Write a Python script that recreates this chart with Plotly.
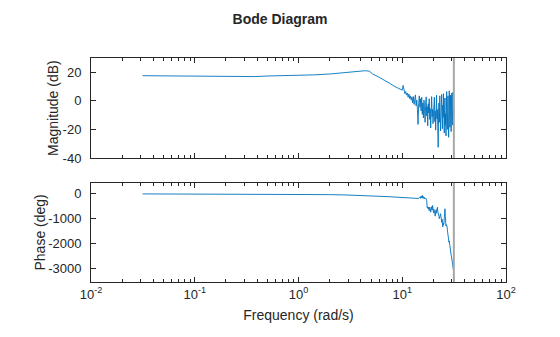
import plotly.graph_objects as go
from plotly.subplots import make_subplots

# ---- data ----
# smooth low-frequency part
freq_low = [0.0314, 0.05, 0.08, 0.12, 0.2, 0.3, 0.38, 0.5, 0.7, 1.0, 1.4, 2.0,
            2.8, 3.5, 4.4, 4.8, 5.2, 6.0, 7.0, 7.6, 8.5, 9.3, 9.8]
mag_low = [17.6, 17.5, 17.3, 17.0, 17.1, 17.3, 17.0, 17.4, 17.5, 17.6, 18.2, 18.8,
           20.0, 20.6, 21.1, 20.8, 18.8, 16.5, 14.0, 12.2, 10.0, 8.5, 7.5]
phase_low = [-0.5, -1, -1.5, -2, -3, -5, -6, -8, -11, -15, -21, -30,
             -42, -53, -66, -72, -78, -90, -105, -114, -128, -140, -147]

# noisy high-frequency part
freq_high = [10.0, 10.2, 10.4, 10.6, 10.8, 11.0, 11.2, 11.4, 11.6, 11.8,
             12.0, 12.2, 12.4, 12.6, 12.8, 13.0, 13.2, 13.4, 13.6, 13.8,
             14.0, 14.2, 14.4, 14.6, 14.8, 15.0, 15.2, 15.4, 15.6, 15.8,
             16.0, 16.2, 16.4, 16.6, 16.8, 17.0, 17.2, 17.4, 17.6, 17.8,
             18.0, 18.2, 18.4, 18.6, 18.8, 19.0, 19.2, 19.4, 19.6, 19.8,
             20.0, 20.2, 20.4, 20.6, 20.8, 21.0, 21.2, 21.4, 21.6, 21.8,
             22.0, 22.2, 22.4, 22.6, 22.8, 23.0, 23.2, 23.4, 23.6, 23.8,
             24.0, 24.2, 24.4, 24.6, 24.8, 25.0, 25.2, 25.4, 25.6, 25.8,
             26.0, 26.2, 26.4, 26.6, 26.8, 27.0, 27.2, 27.4, 27.6, 27.8,
             28.0, 28.2, 28.4, 28.6, 28.8, 29.0, 29.2, 29.4, 29.6, 29.8,
             30.0, 30.2, 30.4, 30.6, 30.8, 31.0, 31.2, 31.4]
mag_high = [7.5, 10.8, 6.0, 5.0, 6.5, 4.0, 5.5, 2.5, 4.8, 1.5,
            3.5, 0.5, 2.8, -1.5, 3.0, -2.5, 1.0, 4.2, -3.5, 0.5,
            -6.0, -16.5, -2.0, 3.5, -4.5, 1.5, -7.0, 2.5, -9.5, -1.5,
            -12.0, 0.5, -6.5, -15.0, -3.0, 2.8, -10.5, -4.0, -17.5, -2.0,
            -8.5, 1.5, -13.0, -5.5, -19.0, -3.5, 3.0, -11.0, -6.0, -16.0,
            -2.5, -9.0, 2.5, -14.5, -7.0, -20.5, -4.0, 4.0, -12.5, -6.0,
            -18.0, -32.5, -8.5, -1.5, -15.0, 3.5, -10.0, -21.0, -5.0, -13.5,
            4.5, -8.0, -19.5, -3.0, -11.5, 5.0, -14.0, -22.5, -6.0, 2.0,
            -17.0, -9.0, -24.5, -4.5, 6.5, -12.0, -20.0, -7.5, 3.5, -16.0,
            -25.5, -10.0, 7.0, -5.5, -18.5, -8.0, 4.0, -14.0, -21.5, -3.5,
            5.5, -11.0, -17.0, -6.0, 6.0, -13.0, -4.0, -9.0]
phase_high = [-150, -152, -155, -154, -158, -160, -158, -163, -165, -162,
              -168, -170, -166, -172, -175, -170, -178, -176, -180, -172,
              -183, -178, -185, -150, -120, -180, -90, -160, -60, -175,
              -110, -190, -140, -195, -170, -205, -260, -560, -520, -610,
              -540, -680, -530, -600, -740, -560, -520, -650, -470, -600,
              -760, -620, -820, -735, -900, -700, -640, -780, -560, -540,
              -700, -860, -760, -920, -1000, -880, -960, -800, -900, -1080,
              -1150, -1020, -1250, -1335, -1180, -1250, -1200, -1000, -760, -600,
              -900, -1150, -1300, -1240, -1280, -1300, -1450, -1580, -1700, -1870,
              -1800, -1950, -1900, -2050, -2150, -2250, -2350, -2450, -2480, -2520,
              -2600, -2650, -2700, -2780, -2870, -2900, -3100, -3540]

nyquist = 31.42  # rad/s, gray vertical marker

mag_ticks = [-40, -20, 0, 20]
mag_tick_text = ["-40", "-20", "0", "20"]
phase_ticks = [-3000, -2000, -1000, 0]
phase_tick_text = ["-3000", "-2000", "-1000", "0"]
freq_ticks = [0.01, 0.1, 1, 10, 100]
freq_tick_text = ["10<sup>-2</sup>", "10<sup>-1</sup>", "10<sup>0</sup>",
                  "10<sup>1</sup>", "10<sup>2</sup>"]

freq = freq_low + freq_high
mag = mag_low + mag_high
phase = phase_low + phase_high

# ---- figure ----
blue = "#0072BD"
axis_col = "#262626"
font = "Liberation Sans, Arial, Helvetica, sans-serif"

fig = make_subplots(rows=2, cols=1, shared_xaxes=False, vertical_spacing=0.11)
fig.add_trace(go.Scatter(x=freq, y=mag, mode="lines",
                         line=dict(color=blue, width=0.9)), row=1, col=1)
fig.add_trace(go.Scatter(x=freq, y=phase, mode="lines",
                         line=dict(color=blue, width=0.9)), row=2, col=1)
fig.add_trace(go.Scatter(x=[nyquist, nyquist], y=[-40, 30], mode="lines",
                         line=dict(color="#a6a6a6", width=2)), row=1, col=1)
fig.add_trace(go.Scatter(x=[nyquist, nyquist], y=[-3560, 440], mode="lines",
                         line=dict(color="#a6a6a6", width=2)), row=2, col=1)

minor = [m * 10 ** k for k in range(-2, 2) for m in range(2, 10)]

xcommon = dict(type="log", range=[-2, 2], showline=True, linecolor=axis_col,
               linewidth=1, mirror="allticks", ticks="inside", ticklen=5,
               tickcolor=axis_col, tickvals=freq_ticks, showgrid=False, zeroline=False,
               minor=dict(ticks="inside", ticklen=3, tickcolor=axis_col,
                          tickvals=minor, showgrid=False),
               tickfont=dict(family=font, size=13, color=axis_col))
ycommon = dict(showline=True, linecolor=axis_col, linewidth=1, mirror="allticks",
               ticks="inside", ticklen=5, tickcolor=axis_col, showgrid=False,
               zeroline=False, ticklabelstandoff=6,
               tickfont=dict(family=font, size=13, color=axis_col))

fig.update_layout(
    width=560, height=337,
    margin=dict(l=91, r=54, t=58, b=55),
    paper_bgcolor="white", plot_bgcolor="white",
    showlegend=False,
    title=dict(text="<b>Bode Diagram</b>", x=0.5, xanchor="center",
               y=1 - 19 / 337, yanchor="middle",
               font=dict(family=font, size=14, color=axis_col)),
    xaxis=dict(**xcommon, showticklabels=False, domain=[0, 1]),
    xaxis2=dict(**xcommon, ticktext=freq_tick_text, showticklabels=True,
                title=dict(text="Frequency (rad/s)", standoff=9,
                           font=dict(family=font, size=14, color=axis_col))),
    yaxis=dict(**ycommon, range=[-40, 30], tickvals=mag_ticks,
               ticktext=mag_tick_text, domain=[1 - 100 / 224, 1]),
    yaxis2=dict(**ycommon, range=[-3560, 440], tickvals=phase_ticks,
                ticktext=phase_tick_text, domain=[0, 99 / 224]),
)

# y-axis titles placed as rotated annotations (paper coords of the plot area)
fig.add_annotation(text="Magnitude (dB)", textangle=-90, showarrow=False,
                   xref="paper", yref="paper", x=(53 - 91) / 415, y=(282 - 108) / 224,
                   xanchor="center", yanchor="middle",
                   font=dict(family=font, size=14, color=axis_col))
fig.add_annotation(text="Phase (deg)", textangle=-90, showarrow=False,
                   xref="paper", yref="paper", x=(39 - 91) / 415, y=(282 - 232.5) / 224,
                   xanchor="center", yanchor="middle",
                   font=dict(family=font, size=14, color=axis_col))

fig.write_html("out.html")
